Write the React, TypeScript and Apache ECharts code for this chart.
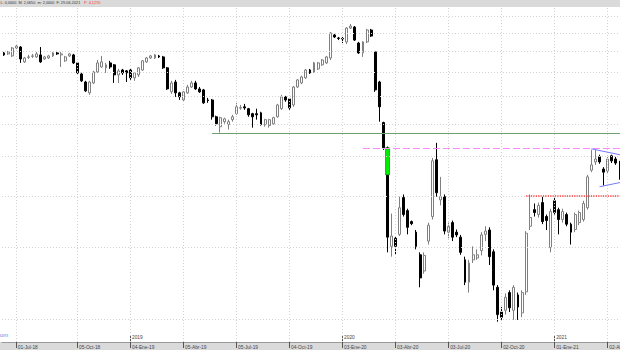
import React, { useEffect, useRef } from 'react';
import * as echarts from 'echarts';

// ---- categories: weekly bars starting 01-Jun-2018 ----
const monthNames = ['Ene', 'Feb', 'Mar', 'Abr', 'May', 'Jun', 'Jul', 'Ago', 'Sep', 'Oct', 'Nov', 'Dic'];
const weekCount = 152;
const categories: string[] = [];
for (let i = 0; i < weekCount; i++) {
  const d = new Date(Date.UTC(2018, 5, 1) + i * 7 * 86400000);
  categories.push(
    `${String(d.getUTCDate()).padStart(2, '0')}-${monthNames[d.getUTCMonth()]}-${String(d.getUTCFullYear()).slice(2)}`
  );
}

// ---- weekly OHLC ----
const open = [
  8.94, 8.89, 8.79, 9.19, 9.24, 8.50, 8.72, 8.77, 8.74, 8.84,
  8.64, 8.69, 8.79, 8.94, 8.84, 8.55, 8.79, 8.84, 8.45, 7.94,
  7.59, 7.14, 7.55, 8.03, 8.26, 8.22, 8.45, 8.36, 7.90, 8.12,
  8.08, 8.12, 7.77, 7.90, 8.12, 8.50, 8.69, 8.69, 8.79, 8.74,
  8.22, 7.18, 7.59, 7.14, 6.86, 7.14, 7.38, 7.55, 7.30, 7.26,
  6.86, 6.86, 6.24, 5.90, 6.07, 5.97, 6.14, 6.35, 6.55, 6.60,
  6.53, 6.35, 6.35, 6.38, 5.97, 5.94, 6.00, 6.24, 6.53, 6.98,
  6.90, 6.67, 7.38, 7.55, 7.77, 8.12, 8.03, 8.17, 8.36, 8.45,
  8.69, 9.89, 9.72, 9.70, 9.51, 10.28, 10.34, 9.45, 8.94, 9.51,
  10.17, 8.99, 7.59, 6.04, 5.24, 3.01, 3.15, 3.22, 3.96, 3.68,
  3.46, 3.26, 2.87, 2.62, 3.10, 3.56, 4.90, 3.91, 3.98, 3.26,
  3.44, 3.26, 3.17, 2.79, 2.46, 2.79, 2.82, 2.94, 3.22, 3.30,
  2.92, 2.39, 2.08, 2.10, 2.32, 2.10, 2.29, 2.07, 2.33, 3.37,
  3.70, 3.60, 3.85, 3.56, 2.99, 3.89, 3.70, 3.50, 3.60, 3.41,
  3.31, 3.44, 3.50, 3.74, 4.62, 4.84, 4.98, 4.65, 4.60, 5.01,
  4.92, 4.84,
];
const close = [
  8.84, 8.99, 9.19, 9.29, 8.64, 8.69, 8.74, 8.79, 8.89, 8.50,
  8.74, 8.79, 8.94, 8.89, 8.89, 8.74, 8.89, 8.45, 7.99, 7.64,
  7.22, 7.59, 8.03, 8.45, 8.50, 8.36, 8.26, 7.90, 8.08, 7.99,
  7.99, 7.77, 7.99, 8.22, 8.55, 8.69, 8.79, 8.84, 8.74, 8.22,
  7.30, 7.55, 7.14, 6.98, 7.18, 7.38, 7.55, 7.30, 7.18, 6.75,
  6.84, 6.24, 6.00, 6.21, 6.17, 6.07, 6.24, 6.60, 6.57, 6.56,
  6.31, 6.24, 6.31, 5.97, 6.14, 6.14, 6.21, 6.67, 6.98, 6.86,
  6.56, 7.38, 7.68, 7.81, 8.12, 7.99, 8.45, 8.45, 8.59, 8.74,
  10.00, 9.78, 9.70, 9.67, 10.28, 10.40, 9.61, 8.94, 9.51, 10.17,
  9.83, 7.26, 6.60, 5.24, 3.17, 3.19, 3.01, 3.74, 3.60, 3.35,
  3.42, 3.01, 2.52, 2.86, 3.39, 4.87, 4.07, 3.98, 3.28, 3.37,
  3.17, 3.21, 2.91, 2.46, 2.74, 2.87, 2.87, 3.21, 3.28, 2.84,
  2.42, 2.05, 2.02, 2.26, 2.13, 2.39, 2.14, 2.32, 3.24, 3.54,
  3.64, 3.79, 3.46, 3.48, 3.66, 3.64, 3.50, 3.66, 3.41, 3.26,
  3.60, 3.64, 3.83, 4.45, 4.76, 4.92, 4.84, 4.57, 4.92, 4.87,
  4.81, 4.42,
];
const low = [
  8.79, 8.84, 8.74, 9.14, 8.45, 8.45, 8.64, 8.69, 8.69, 8.45,
  8.59, 8.64, 8.74, 8.84, 8.26, 8.50, 8.74, 8.40, 7.90, 7.59,
  7.18, 7.06, 7.50, 7.99, 8.22, 7.99, 8.17, 7.55, 7.55, 7.90,
  7.59, 7.68, 7.64, 7.81, 8.08, 8.45, 8.64, 8.64, 8.69, 8.17,
  7.26, 7.10, 6.98, 6.86, 6.79, 7.10, 7.34, 7.26, 7.14, 6.71,
  6.75, 6.14, 5.94, 5.71, 6.00, 5.81, 6.07, 6.31, 6.49, 6.49,
  6.24, 5.87, 6.14, 5.94, 5.90, 5.87, 5.97, 6.21, 6.49, 6.79,
  6.49, 6.60, 7.34, 7.50, 7.72, 7.94, 7.99, 8.12, 8.31, 8.40,
  8.59, 9.72, 9.61, 9.45, 9.40, 10.23, 9.56, 8.89, 8.74, 9.45,
  9.78, 7.18, 6.07, 5.18, 2.91, 2.84, 2.87, 3.19, 3.56, 3.22,
  3.39, 2.96, 2.39, 2.58, 3.04, 3.50, 3.98, 3.79, 3.22, 3.15,
  3.10, 3.17, 2.87, 2.42, 2.32, 2.74, 2.79, 2.86, 3.10, 2.71,
  2.35, 1.97, 1.99, 2.05, 2.08, 1.99, 1.99, 2.02, 2.29, 3.30,
  3.56, 3.54, 3.41, 3.30, 2.91, 3.60, 3.22, 3.44, 3.37, 3.04,
  3.26, 3.39, 3.46, 3.70, 4.57, 4.76, 4.79, 4.24, 4.55, 4.81,
  4.76, 4.38,
];
const high = [
  8.99, 9.04, 9.24, 9.35, 9.29, 8.74, 8.84, 8.89, 8.99, 9.24,
  8.79, 8.84, 8.99, 9.04, 8.99, 8.79, 8.94, 8.89, 8.50, 7.99,
  7.64, 7.64, 8.08, 8.59, 8.79, 8.45, 8.55, 8.40, 8.17, 8.17,
  8.12, 8.17, 8.03, 8.26, 8.59, 8.74, 8.84, 8.89, 8.84, 8.79,
  8.26, 7.64, 7.68, 7.18, 7.22, 7.47, 7.64, 7.64, 7.38, 7.30,
  6.94, 6.90, 6.28, 6.24, 6.21, 6.14, 6.31, 6.75, 6.67, 6.71,
  6.56, 6.38, 6.53, 6.42, 6.17, 6.17, 6.24, 6.71, 7.06, 7.02,
  6.94, 7.42, 7.72, 7.86, 8.17, 8.17, 8.50, 8.50, 8.64, 8.79,
  10.06, 9.95, 9.78, 9.78, 10.34, 10.52, 10.40, 9.51, 9.56, 10.23,
  10.23, 9.04, 7.64, 6.07, 5.28, 3.62, 3.19, 3.98, 4.03, 3.72,
  3.48, 3.30, 2.91, 2.91, 3.44, 4.95, 5.39, 4.45, 4.03, 3.44,
  3.48, 3.31, 3.21, 2.84, 2.79, 3.01, 2.96, 3.26, 3.37, 3.35,
  2.96, 2.42, 2.14, 2.31, 2.35, 2.42, 2.32, 2.35, 3.28, 4.03,
  3.83, 3.85, 3.98, 3.60, 3.72, 3.96, 3.74, 3.72, 3.64, 3.44,
  3.64, 3.68, 3.89, 4.50, 5.18, 5.18, 5.04, 4.70, 4.98, 5.04,
  4.98, 4.87,
];

// highlighted gap box (green) on the crash week
const highlightIndex = 94;
const highlightBox = [5.24, 4.50, 4.50, 5.24];

// ---- axis ticks ----
const tickIndex = [3, 18, 31, 44, 57, 70, 83, 96, 109, 122, 135, 148];
const tickLabels = [
  '01-Jul-18', '05-Oct-18', '04-Ene-19', '05-Abr-19', '05-Jul-19', '04-Oct-19',
  '03-Ene-20', '03-Abr-20', '03-Jul-20', '02-Oct-20', '01-Ene-21', '02-Abr-21',
];
const yearIndex = [31, 83, 135];
const yearLabels = ['2019', '2020', '2021'];
const priceGrid = [2, 3, 4, 5, 6, 7, 8, 9, 10, 11];

// ---- drawn levels ----
const supportLevel = 5.7;
const supportFrom = 51;
const resistanceLevel = 5.24;
const resistanceFrom = 88;
const breakoutLevel = 4.0;
const breakoutFrom = 128;
const wedgeUpper = [[144, 5.21], [151, 5.04]];
const wedgeLower = [[146, 4.21], [151, 4.31]];
const lastIndex = weekCount - 1;

const FONT = '"Liberation Sans", Arial, sans-serif';

export default function App() {
  const ref = useRef<HTMLDivElement>(null);
  useEffect(() => {
    document.body.style.margin = '0';
    const chart = echarts.init(ref.current!, undefined, { renderer: 'svg' });
    const candles = open.map((o, i) => [o, close[i], low[i], high[i]]);
    const highlight = categories.map((_, i) => (i === highlightIndex ? highlightBox : ['-', '-', '-', '-']));
    const empty = categories.map(() => '-');
    const seg = (pts: number[][], style: any) => [
      { coord: pts[0], lineStyle: style },
      { coord: pts[1] },
    ];
    const option: any = {
      animation: false,
      textStyle: { fontFamily: FONT },
      grid: { left: 2, right: -2, top: 8, bottom: 8, containLabel: false, outerBoundsMode: 'none' },
      xAxis: [
        {
          type: 'category',
          data: categories,
          boundaryGap: true,
          position: 'bottom',
          axisLine: { show: true, lineStyle: { color: '#9a9a9a', width: 1 } },
          axisTick: {
            show: true,
            alignWithLabel: true,
            length: 6,
            interval: (i: number) => tickIndex.includes(i),
            lineStyle: { color: '#555', width: 1 },
          },
          axisLabel: {
            show: true,
            interval: (i: number) => tickIndex.includes(i),
            formatter: (_v: string, i: number) => tickLabels[tickIndex.indexOf(i)] ?? '',
            align: 'left',
            fontSize: 4.8,
            color: '#444',
            margin: 2.5,
            padding: [0, 0, 0, 1.5],
            hideOverlap: false,
          },
          splitLine: { show: false },
        },
        {
          type: 'category',
          data: categories,
          boundaryGap: true,
          position: 'bottom',
          axisLine: { show: false },
          axisTick: {
            show: true,
            inside: true,
            alignWithLabel: true,
            length: 6,
            interval: (i: number) => yearIndex.includes(i),
            lineStyle: { color: '#555', width: 1 },
          },
          axisLabel: {
            show: true,
            inside: true,
            interval: (i: number) => yearIndex.includes(i),
            formatter: (_v: string, i: number) => yearLabels[yearIndex.indexOf(i)] ?? '',
            align: 'left',
            fontSize: 4.8,
            color: '#444',
            margin: 2,
            padding: [0, 0, 0, 1.5],
          },
          splitLine: { show: false },
        },
      ],
      yAxis: {
        type: 'log',
        logBase: 10,
        min: 1.757,
        max: 11.51,
        show: false,
        splitLine: { show: false },
      },
      series: [
        {
          type: 'line',
          data: empty,
          z: 1,
          silent: true,
          showSymbol: false,
          markLine: {
            silent: true,
            symbol: ['none', 'none'],
            label: { show: false },
            emphasis: { disabled: true },
            lineStyle: { type: [1, 2], color: '#d2d2d2', width: 1 },
            data: [
              ...priceGrid.map((v) => ({ yAxis: v })),
              ...tickIndex.map((i) => ({ xAxis: i })),
            ],
          },
        },
        {
          type: 'candlestick',
          data: candles,
          z: 3,
          barWidth: 2.4,
          silent: true,
          itemStyle: {
            color: '#ffffff',
            color0: '#000000',
            borderColor: '#808080',
            borderColor0: '#000000',
            borderWidth: 1,
          },
        },
        {
          type: 'candlestick',
          data: highlight,
          z: 4,
          barWidth: 4,
          silent: true,
          itemStyle: {
            color: '#00ee00',
            color0: '#00ee00',
            borderColor: '#1a6a1a',
            borderColor0: '#1a6a1a',
            borderWidth: 0.6,
          },
        },
        {
          type: 'line',
          data: empty,
          z: 5,
          silent: true,
          showSymbol: false,
          markLine: {
            silent: true,
            symbol: ['none', 'none'],
            label: { show: false },
            emphasis: { disabled: true },
            data: [
              seg([[supportFrom, supportLevel], [lastIndex, supportLevel]], { color: '#6f9f6f', width: 1, type: 'solid' }),
              seg([[resistanceFrom, resistanceLevel], [lastIndex, resistanceLevel]], { color: '#ff88ff', width: 1.2, type: [7, 3] }),
              seg([[breakoutFrom, breakoutLevel], [lastIndex, breakoutLevel]], { color: '#ff3a3a', width: 1.6, type: [1.2, 1.2] }),
              seg(wedgeUpper, { color: '#7878ff', width: 1, type: 'solid' }),
              seg(wedgeLower, { color: '#7878ff', width: 1, type: 'solid' }),
            ],
          },
        },
      ],
      graphic: [
        { type: 'rect', z: -10, shape: { x: 0, y: 0, width: 620, height: 7 }, style: { fill: '#dadada' } },
        { type: 'rect', z: -10, shape: { x: 0, y: 342, width: 620, height: 8 }, style: { fill: '#dadada' } },
        {
          type: 'text',
          x: 0.5,
          y: 3.4,
          style: {
            text: 'L: 0,0000  M: 2,0650  m: 2,0000  F: 29-06-2021',
            fontSize: 3.8,
            fontFamily: FONT,
            fill: '#333',
            verticalAlign: 'middle',
          },
        },
        {
          type: 'text',
          x: 84,
          y: 3.4,
          style: { text: 'P: 4,1270', fontSize: 3.8, fontFamily: FONT, fill: '#ff3030', verticalAlign: 'middle' },
        },
        {
          type: 'text',
          x: 0,
          y: 335,
          style: { text: 'om', fontSize: 6, fontFamily: FONT, fill: '#7a7ae0', verticalAlign: 'middle' },
        },
      ],
    };
    chart.setOption(option);
    return () => chart.dispose();
  }, []);
  return <div ref={ref} style={{ width: 620, height: 350, background: '#ffffff' }} />;
}
